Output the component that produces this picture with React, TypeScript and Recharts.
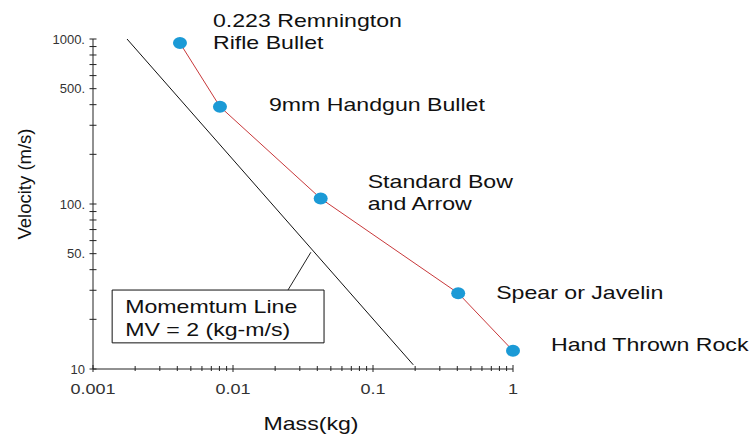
import { ScatterChart, Scatter, XAxis, YAxis, ReferenceArea, ReferenceLine, Customized } from "recharts";

// projectiles (mass kg, velocity m/s)
const projectileNames = [
  ["0.223 Remnington", "Rifle Bullet"],
  ["9mm Handgun Bullet"],
  ["Standard Bow", "and Arrow"],
  ["Spear or Javelin"],
  ["Hand Thrown Rock"],
];
const projectileMass = [0.00418, 0.00807, 0.0423, 0.406, 1.0];
const projectileVelocity = [945, 389, 108, 28.8, 12.9];

// momentum line MV = 2, end points
const momentumMass = [0.00175, 0.194];
const momentumVelocity = [1000, 10.6];

// label box + leader
const boxMass = [0.00137, 0.0447];
const boxVelocity = [14.4, 30.1];
const boxText = ["Momemtum Line", "MV = 2 (kg-m/s)"];
const leaderMass = [0.0247, 0.036];
const leaderVelocity = [30.1, 51];

const xTicks = [
  0.001, 0.002, 0.003, 0.004, 0.005, 0.006, 0.007, 0.008, 0.009,
  0.01, 0.02, 0.03, 0.04, 0.05, 0.06, 0.07, 0.08, 0.09,
  0.1, 0.2, 0.3, 0.4, 0.5, 0.6, 0.7, 0.8, 0.9, 1,
];
const xMajor = [0.001, 0.01, 0.1, 1];
const xMajorLabels = ["0.001", "0.01", "0.1", "1"];

const yTicks = [
  10, 20, 30, 40, 50, 60, 70, 80, 90,
  100, 200, 300, 400, 500, 600, 700, 800, 900, 1000,
];
const yMajor = [10, 50, 100, 500, 1000];
const yMajorLabels = ["10", "50.", "100.", "500.", "1000."];

const FONT = "'Liberation Sans', Arial, sans-serif";
const STRETCH = 1.25; // text in the picture is wider than normal
const labelOffsets = [
  { dx: 33, dy: -16 },
  { dx: 49, dy: 4 },
  { dx: 47, dy: -10 },
  { dx: 38, dy: 6 },
  { dx: 38, dy: 0 },
];

const projectileData = projectileMass.map((m, i) => ({ m, v: projectileVelocity[i], idx: i }));
const momentumData = momentumMass.map((m, i) => ({ m, v: momentumVelocity[i] }));

function WideText({ x, y, size = 18.5, anchor = "start", fill = "#111", stretch = STRETCH, children }: any) {
  return (
    <text
      transform={`translate(${x},${y}) scale(${stretch},1)`}
      fontSize={size}
      textAnchor={anchor}
      fill={fill}
      fontFamily={FONT}
    >
      {children}
    </text>
  );
}

function ProjectileDot(props: any) {
  const { cx, cy, payload } = props;
  const i = payload.idx;
  const off = labelOffsets[i];
  return (
    <g>
      <ellipse cx={cx} cy={cy} rx={7} ry={6} fill="#1b9ad6" />
      {projectileNames[i].map((line, k) => (
        <WideText key={k} x={cx + off.dx} y={cy + off.dy + k * 22}>
          {line}
        </WideText>
      ))}
    </g>
  );
}

function XTick(props: any) {
  const { x, y, payload } = props;
  const j = xMajor.indexOf(payload.value);
  return (
    <g>
      <line x1={x} x2={x} y1={y - (j >= 0 ? 4 : 3)} y2={y + (j >= 0 ? 3 : 2)} stroke="#222" />
      {j >= 0 && (
        <WideText x={x} y={y + 25} size={15} anchor="middle" fill="#333" stretch={1.2}>
          {xMajorLabels[j]}
        </WideText>
      )}
    </g>
  );
}

function YTick(props: any) {
  const { x, y, payload } = props;
  const j = yMajor.indexOf(payload.value);
  return (
    <g>
      <line x1={x - 3.5} x2={x + 3.5} y1={y} y2={y} stroke="#222" />
      {j >= 0 && (
        <text x={x - 8} y={y} dy="0.35em" textAnchor="end" fontSize={13} fill="#333" fontFamily={FONT}>
          {yMajorLabels[j]}
        </text>
      )}
    </g>
  );
}

function BoxLabel(props: any) {
  const { viewBox } = props;
  return (
    <g>
      {boxText.map((t, k) => (
        <WideText key={k} x={viewBox.x + 13} y={viewBox.y + 23 + k * 23}>
          {t}
        </WideText>
      ))}
    </g>
  );
}

function Titles() {
  return (
    <g>
      <text
        transform="translate(31,184) rotate(-90)"
        fontSize={18.5}
        textAnchor="middle"
        fill="#111"
        fontFamily={FONT}
      >
        Velocity (m/s)
      </text>
      <WideText x={311} y={430} anchor="middle">
        Mass(kg)
      </WideText>
    </g>
  );
}

export default function App() {
  return (
    <div style={{ position: "absolute", left: 0, top: 0, width: 750, height: 438, background: "#fff" }}>
      <ScatterChart
        width={750}
        height={438}
        margin={{ top: 39, right: 237, bottom: 29, left: 33 }}
        style={{ fontFamily: FONT }}
      >
        <XAxis
          type="number"
          dataKey="m"
          scale="log"
          domain={[0.001, 1]}
          ticks={xTicks}
          interval={0}
          tickSize={0}
          tickMargin={0}
          tickLine={false}
          tick={(p: any) => <XTick {...p} />}
          axisLine={{ stroke: "#222" }}
          height={40}
        />
        <YAxis
          type="number"
          dataKey="v"
          scale="log"
          domain={[10, 1000]}
          ticks={yTicks}
          interval={0}
          tickSize={0}
          tickMargin={0}
          tickLine={false}
          tick={(p: any) => <YTick {...p} />}
          axisLine={{ stroke: "#222" }}
          width={60}
        />
        <ReferenceArea
          x1={boxMass[0]}
          x2={boxMass[1]}
          y1={boxVelocity[0]}
          y2={boxVelocity[1]}
          fill="#fff"
          fillOpacity={1}
          stroke="#111"
          strokeWidth={1}
          label={(p: any) => <BoxLabel {...p} />}
        />
        <ReferenceLine
          segment={[
            { x: leaderMass[0], y: leaderVelocity[0] },
            { x: leaderMass[1], y: leaderVelocity[1] },
          ]}
          stroke="#222"
          strokeWidth={1}
        />
        <Scatter
          data={momentumData}
          line={{ stroke: "#111", strokeWidth: 1 }}
          shape={() => <g />}
          isAnimationActive={false}
        />
        <Scatter
          data={projectileData}
          line={{ stroke: "#c8383a", strokeWidth: 1 }}
          shape={(p: any) => <ProjectileDot {...p} />}
          isAnimationActive={false}
        />
        <Customized component={Titles} />
      </ScatterChart>
    </div>
  );
}
